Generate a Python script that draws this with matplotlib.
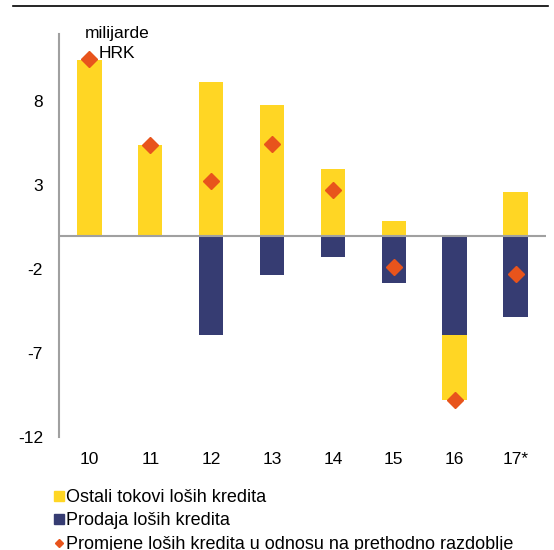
import matplotlib
matplotlib.use("Agg")
import matplotlib.pyplot as plt
from matplotlib.lines import Line2D
import numpy as np

plt.rcParams['font.family'] = ['Liberation Sans', 'DejaVu Sans']

years = ["10", "11", "12", "13", "14", "15", "16", "17*"]
ostali = [10.45, 5.4, 9.13, 7.75, 3.96, 0.89, -3.82, 2.57]
prodaja = [0.0, -0.08, -5.91, -2.35, -1.29, -2.81, -5.95, -4.88]
promjene = [10.5, 5.38, 3.24, 5.44, 2.71, -1.88, -9.77, -2.27]
yticks = [-12, -7, -2, 3, 8]

YELLOW = "#FFD624"
NAVY = "#363C72"
ORANGE = "#E8541C"
GRAY = "#A0A0A0"

fig = plt.figure(figsize=(5.54, 5.50), dpi=100)
ax = fig.add_axes([0.1065, 0.2055, 0.879, 0.7325])

x = np.arange(len(years))
w = 0.4
ostali_a = np.array(ostali)
prodaja_a = np.array(prodaja)
bottom_y = np.where(ostali_a < 0, np.minimum(prodaja_a, 0), 0.0)
ax.bar(x, prodaja_a, width=w, color=NAVY, zorder=2)
ax.bar(x, ostali_a, width=w, bottom=bottom_y, color=YELLOW, zorder=2)
ax.plot(x, promjene, linestyle="none", marker="D", markersize=8,
        color=ORANGE, zorder=4)

ax.axhline(0, color=GRAY, lw=1.5, zorder=3)
ax.set_xlim(-0.5, 7.5)
ax.set_ylim(-12, 12)
ax.set_yticks(yticks)
ax.set_yticklabels([str(t) for t in yticks])
ax.set_xticks(x)
ax.set_xticklabels(years)
ax.tick_params(axis="both", length=0, labelsize=12.5)
ax.tick_params(axis="y", pad=11.5)
ax.tick_params(axis="x", pad=11)
for s in ["top", "right", "bottom"]:
    ax.spines[s].set_visible(False)
ax.spines["left"].set_color(GRAY)
ax.spines["left"].set_linewidth(1.5)

ax.text(0.45, 11.45, "milijarde\nHRK", ha="center", va="center",
        fontsize=12.5, linespacing=1.4)

fig.add_artist(Line2D([13/554, 548/554], [1-6/550, 1-6/550],
                      color="black", lw=1.2))

handles = [
    Line2D([], [], linestyle="none", marker="s", markersize=7.2, color=YELLOW),
    Line2D([], [], linestyle="none", marker="s", markersize=7.2, color=NAVY),
    Line2D([], [], linestyle="none", marker="D", markersize=4.5, color=ORANGE),
]
labels = ["Ostali tokovi loših kredita", "Prodaja loših kredita",
          "Promjene loših kredita u odnosu na prethodno razdoblje"]
fig.legend(handles, labels, loc="upper left", bbox_to_anchor=(0.097, 0.111),
           frameon=False, fontsize=13, handlelength=0.6, handletextpad=0.1,
           labelspacing=0.36, borderpad=0, borderaxespad=0)

fig.savefig("out.png", dpi=100)
